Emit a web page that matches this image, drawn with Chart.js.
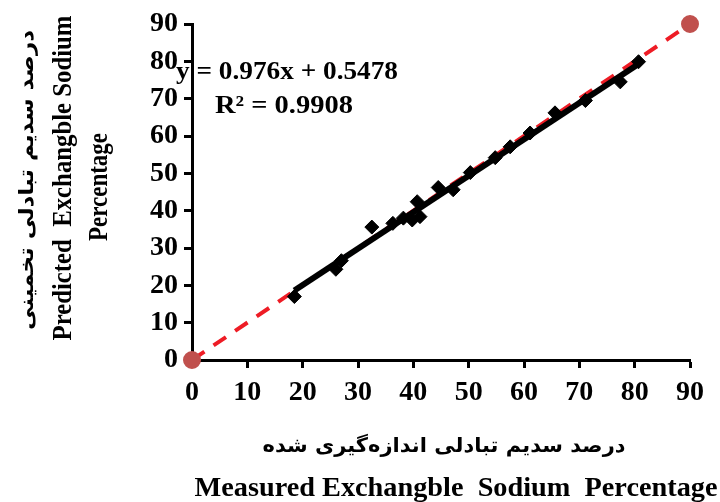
<!DOCTYPE html>
<html>
<head>
<meta charset="utf-8">
<script src="https://cdn.jsdelivr.net/npm/chart.js@4/dist/chart.umd.min.js"></script>
<style>
    html, body { margin: 0; padding: 0; background: #fff; }
    #wrap { width: 720px; height: 502px; }
</style>
</head>
<body>
<div id="wrap"><canvas id="espChart"></canvas></div>
<script>
// measured vs predicted ESP
const measured  = [18.5, 26, 27, 32.5, 36.3, 38.2, 39.8, 40.7, 41.2, 44.5, 47.2, 50.3, 54.8, 57.5, 61.1, 65.6, 71.1, 77.4, 80.7];
const predicted = [17, 24.3, 26.6, 35.6, 36.6, 38, 37.5, 42.4, 38.4, 46.2, 45.6, 50.2, 54.2, 57.1, 60.8, 66.2, 69.5, 74.5, 79.9];

// trend line from the equation shown on the chart
const slope = 0.976;
const intercept = 0.5478;
const fitRange = [18.5, 80.7];

// 1:1 reference line
const oneToOne = [0, 90];

const axisTicks = [0, 10, 20, 30, 40, 50, 60, 70, 80, 90];

const yTitle = ['درصد سدیم تبادلی تخمینی', 'Predicted  Exchangble Sodium', 'Percentage'];
const xTitle = ['درصد سدیم تبادلی اندازه‌گیری شده', 'Measured Exchangble  Sodium  Percentage'];
const eqText = ['y = 0.976x + 0.5478', 'R² = 0.9908'];

const serif = "'Liberation Serif', 'Times New Roman', serif";
const persian = "'DejaVu Sans', sans-serif";

// draw text stretched to a given width (the original text is wide)
function fitText(ctx, text, cx, cy, width, font, rotate) {
    ctx.save();
    ctx.font = font;
    ctx.fillStyle = '#000';
    ctx.textAlign = 'center';
    ctx.textBaseline = 'middle';
    const w = ctx.measureText(text).width;
    ctx.translate(cx, cy);
    if (rotate) ctx.rotate(-Math.PI / 2);
    ctx.scale(width / w, 1);
    ctx.fillText(text, 0, 0);
    ctx.restore();
}

const labelsPlugin = {
    id: 'labels',
    afterDraw(chart) {
        const ctx = chart.ctx;
        fitText(ctx, yTitle[0], 28, 180, 300, 'bold 20px ' + persian, true);
        fitText(ctx, yTitle[1], 64, 178, 325, 'bold 27px ' + serif, true);
        fitText(ctx, yTitle[2], 100, 187, 108, 'bold 27px ' + serif, true);
        fitText(ctx, xTitle[0], 444, 447, 363, 'bold 20px ' + persian, false);
        fitText(ctx, xTitle[1], 456, 489, 523, 'bold 27px ' + serif, false);
        fitText(ctx, eqText[0], 287, 73, 222, 'bold 25px ' + serif, false);
        fitText(ctx, eqText[1], 284, 107, 138, 'bold 25px ' + serif, false);
    }
};

const fitLine = fitRange.map(x => ({ x: x, y: slope * x + intercept }));

new Chart(document.getElementById('espChart'), {
    type: 'scatter',
    data: {
        datasets: [
            {
                label: '1:1',
                data: oneToOne.map(v => ({ x: v, y: v })),
                showLine: true,
                borderColor: '#ee1c25',
                borderWidth: 4,
                borderDash: [15, 11],
                pointRadius: 7,
                pointBackgroundColor: '#c0504d',
                pointBorderColor: '#c0504d',
                clip: false,
                order: 3
            },
            {
                label: 'fit',
                data: fitLine,
                showLine: true,
                borderColor: '#000',
                borderWidth: 6,
                pointRadius: 0,
                order: 1
            },
            {
                label: 'ESP',
                data: measured.map((m, i) => ({ x: m, y: predicted[i] })),
                pointStyle: 'rectRot',
                pointRadius: 7,
                pointBackgroundColor: '#000',
                pointBorderColor: '#000',
                order: 2
            }
        ]
    },
    options: {
        responsive: true,
        maintainAspectRatio: false,
        animation: false,
        layout: { padding: { left: 0, top: 24, right: 30, bottom: 0 } },
        plugins: {
            legend: { display: false },
            tooltip: { enabled: false }
        },
        scales: {
            x: {
                type: 'linear',
                min: 0,
                max: 90,
                afterBuildTicks: s => { s.ticks = axisTicks.map(v => ({ value: v })); },
                afterFit: s => { s.height = 142; },
                grid: { drawOnChartArea: false, tickLength: 8, tickWidth: 3, tickColor: '#000' },
                border: { color: '#000', width: 3 },
                ticks: { color: '#000', padding: 8, autoSkip: false, maxRotation: 0, font: { family: serif, size: 28, weight: 'bold' } }
            },
            y: {
                type: 'linear',
                min: 0,
                max: 90,
                afterBuildTicks: s => { s.ticks = axisTicks.map(v => ({ value: v })); },
                afterFit: s => { s.width = 192; },
                grid: { drawOnChartArea: false, tickLength: 8, tickWidth: 3, tickColor: '#000' },
                border: { color: '#000', width: 3 },
                ticks: { color: '#000', padding: 6, autoSkip: false, font: { family: serif, size: 28, weight: 'bold' } }
            }
        }
    },
    plugins: [labelsPlugin]
});
</script>
</body>
</html>
